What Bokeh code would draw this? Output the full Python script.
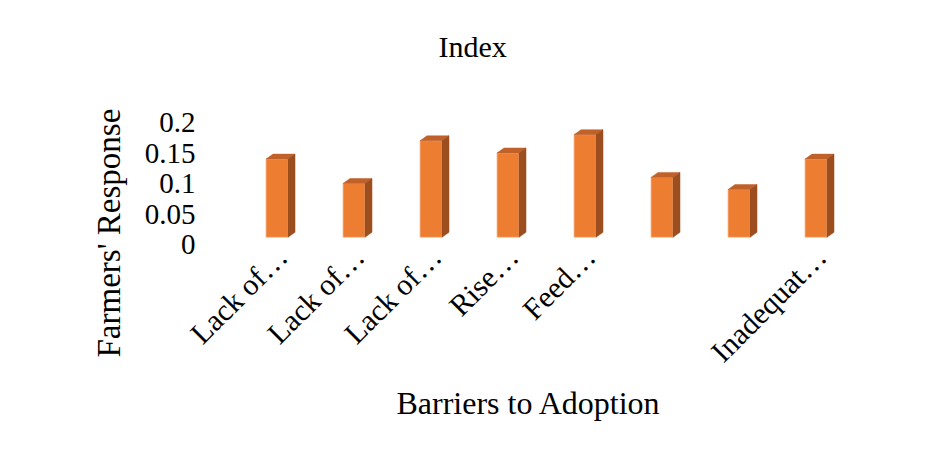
import math
from bokeh.plotting import figure
from bokeh.models import FixedTicker, Title, ColumnDataSource, Range1d
from bokeh.embed import file_html
from bokeh.resources import INLINE

# ---- data ----
categories = ["Lack of…", "Lack of…", "Lack of…", "Rise…", "Feed…", "", "", "Inadequat…"]
values = [0.14, 0.10, 0.17, 0.15, 0.18, 0.11, 0.09, 0.14]
y_ticks = [0, 0.05, 0.1, 0.15, 0.2]
y_tick_labels = ["0", "0.05", "0.1", "0.15", "0.2"]
chart_title = "Index"
x_title = "Barriers to Adoption"
y_title = "Farmers' Response"

# ---- style ----
FONT = "Liberation Serif"
FRONT = "#ED7D31"
TOP = "#C0612A"
SIDE = "#9C4E1F"
BAR_W = 0.286      # front face width (category units)
SHIFT = -0.065     # bar offset from its tick (category units)
DX = 0.091         # 3D depth, x (category units)
DY = 0.0082        # 3D depth, y (value units)
FLOOR = 0.0118     # floor level of the front face (value units)

ticks = list(range(1, len(values) + 1))
centers = [t + SHIFT for t in ticks]
left = [x - BAR_W / 2 for x in centers]
right = [x + BAR_W / 2 for x in centers]

p = figure(width=931, height=453, output_backend="svg", toolbar_location=None,
           x_range=Range1d(0.5, 8.5), y_range=Range1d(0, 0.2),
           min_border_left=243, min_border_right=72,
           min_border_top=122, min_border_bottom=209)

front_src = ColumnDataSource(dict(left=left, right=right, top=values,
                                  bottom=[FLOOR] * len(values)))
p.quad(left="left", right="right", top="top", bottom="bottom", source=front_src,
       fill_color=FRONT, line_color="#F6C3A0", line_width=0.8)

top_xs = [[l, l + DX, r + DX, r] for l, r in zip(left, right)]
top_ys = [[v, v + DY, v + DY, v] for v in values]
p.patches(top_xs, top_ys, fill_color=TOP, line_color=TOP, line_width=0.5)

side_xs = [[r, r + DX, r + DX, r] for r in right]
side_ys = [[FLOOR, FLOOR + DY, v + DY, v] for v in values]
p.patches(side_xs, side_ys, fill_color=SIDE, line_color=SIDE, line_width=0.5)

# ---- axes ----
p.xgrid.grid_line_color = None
p.ygrid.grid_line_color = None
p.outline_line_color = None

xa = p.xaxis[0]
xa.ticker = FixedTicker(ticks=ticks)
xa.major_label_overrides = {t: c for t, c in zip(ticks, categories)}
xa.major_label_orientation = math.pi / 4
xa.axis_line_color = None
xa.major_tick_line_color = None
xa.minor_tick_line_color = None
xa.major_tick_out = 0
xa.major_label_standoff = 7
xa.major_label_text_font = FONT
xa.major_label_text_font_size = "30px"
xa.major_label_text_color = "black"

ya = p.yaxis[0]
ya.ticker = FixedTicker(ticks=y_ticks)
ya.major_label_overrides = {t: s for t, s in zip(y_ticks, y_tick_labels)}
ya.axis_line_color = None
ya.major_tick_line_color = None
ya.minor_tick_line_color = None
ya.major_tick_out = 0
ya.major_label_standoff = 48
ya.major_label_text_font = FONT
ya.major_label_text_font_size = "29px"
ya.major_label_text_color = "black"

# ---- titles ----
p.title.text = chart_title
p.title.align = "left"
p.title.offset = 195
p.title.text_font = FONT
p.title.text_font_size = "30px"
p.title.text_font_style = "normal"
p.title.text_color = "black"
p.title.standoff = 0

# blank spacer between the chart title and the plot area
spacer = Title(text=" ", text_font=FONT, text_font_size="10px", standoff=47)
p.add_layout(spacer, "above")

yt = Title(text=y_title, align="left", offset=-113, text_font=FONT,
           text_font_size="33px", text_font_style="normal", text_color="black",
           standoff=29)
p.add_layout(yt, "left")

xt = Title(text=x_title, align="left", offset=153, text_font=FONT,
           text_font_size="32px", text_font_style="normal", text_color="black",
           standoff=0)
p.add_layout(xt, "below")

open("out.html", "w").write(file_html(p, INLINE))
